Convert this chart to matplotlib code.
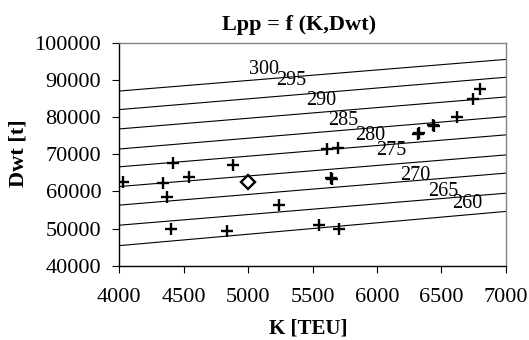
import matplotlib
matplotlib.use("Agg")
import matplotlib.pyplot as plt
import numpy as np

# --- data ---
lpp_levels = [300, 295, 290, 285, 280, 275, 270, 265, 260]
k_ends = [4000, 7000]
dwt_at_4000 = [87000, 82000, 76800, 71400, 66600, 61300, 56300, 50900, 45400]
dwt_at_7000 = [95500, 90700, 85400, 80100, 75200, 69800, 64900, 59500, 54600]
label_k = [5120, 5338, 5571, 5739, 5946, 6115, 6301, 6516, 6702]
label_dwt = [92900, 89700, 84400, 79000, 75100, 70900, 64400, 59900, 56800]

ship_k = [4031, 4419, 4342, 4543, 4373, 4885, 5242, 4401, 4838, 5649, 5640,
          5553, 5708, 5615, 5696, 6329, 6320, 6433, 6440, 6625, 6744, 6800]
ship_dwt = [62600, 67550, 62170, 63940, 58560, 67010, 56330, 49790, 49340, 63240, 63500,
            50870, 49790, 71320, 71750, 75780, 75500, 77850, 77500, 79920, 84770, 87540]
design_k = [5000]
design_dwt = [62600]

x_ticks = [4000, 4500, 5000, 5500, 6000, 6500, 7000]
y_ticks = [40000, 50000, 60000, 70000, 80000, 90000, 100000]

plt.rcParams['font.family'] = ['Liberation Serif', 'DejaVu Serif']

fig = plt.figure(figsize=(5.29, 3.40), dpi=100)
ax = fig.add_axes([119.3/529, 1-265.7/340, (505.7-119.3)/529, (265.7-42.7)/340])

for lev, d0, d1 in zip(lpp_levels, dwt_at_4000, dwt_at_7000):
    ax.plot(k_ends, [d0, d1], color='black', lw=0.8)
for lev, lk, ld in zip(lpp_levels, label_k, label_dwt):
    ax.text(lk, ld, str(lev), fontsize=14.5, ha='center', va='center')

ax.plot(ship_k, ship_dwt, linestyle='none', marker='+', color='black',
        markersize=8, markeredgewidth=1.7)
ax.plot(design_k, design_dwt, linestyle='none', marker='D', markerfacecolor='white',
        markeredgecolor='black', markersize=7, markeredgewidth=1.7)

ax.set_xlim(4000, 7000)
ax.set_ylim(40000, 100000)
ax.set_xticks(x_ticks)
ax.set_yticks(y_ticks)
ax.set_xticklabels([str(v) for v in x_ticks], fontsize=16)
ax.set_yticklabels([str(v) for v in y_ticks], fontsize=16)
ax.tick_params(axis='x', direction='out', length=5, width=0.8, pad=11)
ax.tick_params(axis='y', direction='out', length=5, width=0.8, pad=8)
for s in ['top', 'right']:
    ax.spines[s].set_color('#808080')
    ax.spines[s].set_linewidth(1.0)
for s in ['left', 'bottom']:
    ax.spines[s].set_linewidth(1.0)

fig.text(298.6/529, 1-25.3/340, 'Lpp = f (K,Dwt)', fontsize=16, fontweight='bold',
         ha='center', va='center')
fig.text(308.7/529, 1-329/340, 'K [TEU]', fontsize=15, fontweight='bold',
         ha='center', va='center')
fig.text(19/529, 1-153/340, 'Dwt [t]', fontsize=16, fontweight='bold',
         ha='center', va='center', rotation=90)

fig.savefig('out.png', dpi=100)
